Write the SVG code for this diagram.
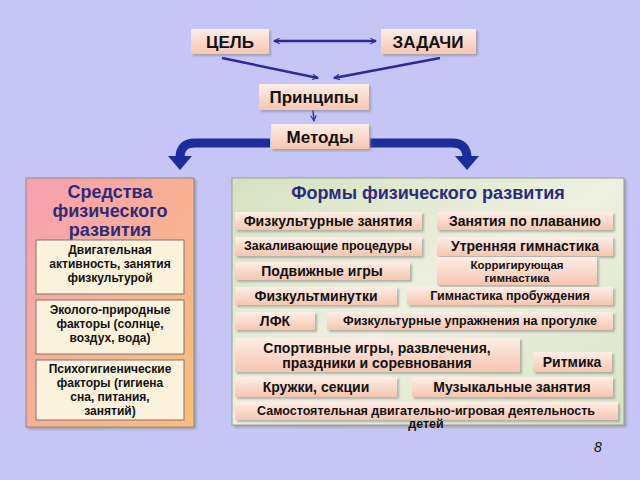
<svg xmlns="http://www.w3.org/2000/svg" width="640" height="480" viewBox="0 0 640 480">
<defs>
<linearGradient id="bx" x1="0" y1="0" x2="0" y2="1"><stop offset="0" stop-color="#fdeee6"/><stop offset="1" stop-color="#f6c6b0"/></linearGradient>
<linearGradient id="lp" x1="0" y1="0" x2="1" y2="1"><stop offset="0" stop-color="#f7a0b4"/><stop offset="1" stop-color="#fbbf73"/></linearGradient>
<linearGradient id="rp" x1="0" y1="0" x2="1" y2="1"><stop offset="0" stop-color="#d4e3c0"/><stop offset="0.5" stop-color="#eef0e0"/><stop offset="1" stop-color="#d8e4c4"/></linearGradient>
<marker id="oa" viewBox="0 0 10 10" refX="9" refY="5" markerWidth="7" markerHeight="7" orient="auto-start-reverse" markerUnits="userSpaceOnUse"><path d="M1,1 L9,5 L1,9" fill="none" stroke="#2a2a9a" stroke-width="1.5"/></marker>
<filter id="sh" x="-5%" y="-5%" width="115%" height="130%"><feDropShadow dx="2" dy="2" stdDeviation="1" flood-color="#888" flood-opacity="0.6"/></filter>
</defs>
<style>
text{font-family:"Liberation Sans",Arial,sans-serif;font-weight:bold;fill:#111;text-anchor:middle}
.b{fill:url(#bx);filter:url(#sh)}
.c{fill:#fbf2dc;stroke:#777;stroke-width:1}
.t{font-size:17px}
.f{font-size:14px}
.g{font-size:12.5px}
.k{font-size:11.5px}
.s{font-size:12px}
.h{fill:#2b2b7a;font-size:18px}
.ln{stroke:#2a2a9a;stroke-width:2.5;fill:none;marker-end:url(#oa)}
</style>
<rect width="640" height="480" fill="#c6c6f6"/>
<g id="connectors">
<line class="ln" x1="274" y1="41" x2="376" y2="41" marker-start="url(#oa)"/>
<line class="ln" x1="222" y1="58" x2="318" y2="78"/>
<line class="ln" x1="440" y1="58" x2="334" y2="78"/>
<line class="ln" x1="313" y1="110" x2="314" y2="121" style="stroke-width:1.5"/>
<path d="M270,143 H195 Q180,143 180,158" fill="none" stroke="#1c2c9a" stroke-width="9"/>
<polygon points="168,156 192,156 180,170" fill="#1c2c9a"/>
<path d="M370,143 H452 Q467,143 467,158" fill="none" stroke="#1c2c9a" stroke-width="9"/>
<polygon points="455,156 479,156 467,170" fill="#1c2c9a"/>
</g>
<g id="cel"><rect class="b" x="191" y="29" width="78" height="25"/><text class="t" x="230" y="48">ЦЕЛЬ</text></g>
<g id="zadachi"><rect class="b" x="381" y="29" width="95" height="25"/><text class="t" x="428" y="48">ЗАДАЧИ</text></g>
<g id="principy"><rect class="b" x="259" y="84" width="110" height="26"/><text class="t" x="314" y="103">Принципы</text></g>
<g id="metody"><rect class="b" x="271" y="124" width="98" height="25"/><text class="t" x="320" y="143">Методы</text></g>
<g id="sredstva">
<rect x="26" y="178" width="168" height="249" fill="url(#lp)" stroke="#888" filter="url(#sh)"/>
<text class="h" x="110" y="198">Средства</text><text class="h" x="110" y="217">физического</text><text class="h" x="110" y="236">развития</text>
<rect class="c" x="36" y="240" width="148" height="54"/>
<text class="s" x="110" y="254">Двигательная</text><text class="s" x="110" y="268">активность, занятия</text><text class="s" x="110" y="282">физкультурой</text>
<rect class="c" x="36" y="300" width="148" height="54"/>
<text class="s" x="110" y="314">Эколого-природные</text><text class="s" x="110" y="328">факторы (солнце,</text><text class="s" x="110" y="342">воздух, вода)</text>
<rect class="c" x="36" y="360" width="148" height="60"/>
<text class="s" x="110" y="373">Психогигиенические</text><text class="s" x="110" y="387">факторы (гигиена</text><text class="s" x="110" y="401">сна, питания,</text><text class="s" x="110" y="415">занятий)</text>
</g>
<g id="formy">
<rect x="232" y="178" width="392" height="247" fill="url(#rp)" stroke="#999" filter="url(#sh)"/>
<text class="h" x="428" y="199">Формы физического развития</text>
<rect class="b" x="235" y="212" width="187" height="18"/><text class="f" x="328" y="226">Физкультурные занятия</text>
<rect class="b" x="437" y="212" width="176" height="18"/><text class="f" x="525" y="226">Занятия по плаванию</text>
<rect class="b" x="235" y="237" width="187" height="19"/><text class="g" x="328" y="250">Закаливающие  процедуры</text>
<rect class="b" x="437" y="237" width="176" height="19"/><text class="f" x="525" y="251">Утренняя гимнастика</text>
<rect class="b" x="235" y="262" width="175" height="18"/><text class="f" x="322" y="276">Подвижные игры</text>
<rect class="b" x="437" y="257" width="160" height="28"/><text class="k" x="517" y="269">Корригирующая</text><text class="k" x="517" y="282">гимнастика</text>
<rect class="b" x="235" y="287" width="162" height="18"/><text class="f" x="316" y="301">Физкультминутки</text>
<rect class="b" x="407" y="287" width="206" height="18"/><text class="g" x="510" y="300">Гимнастика пробуждения</text>
<rect class="b" x="235" y="312" width="80" height="18"/><text class="f" x="275" y="326">ЛФК</text>
<rect class="b" x="327" y="312" width="286" height="18"/><text class="g" x="470" y="325">Физкультурные упражнения на прогулке</text>
<rect class="b" x="235" y="338" width="285" height="34"/><text class="f" x="377" y="353">Спортивные игры, развлечения,</text><text class="f" x="377" y="368">праздники и  соревнования</text>
<rect class="b" x="533" y="352" width="79" height="20"/><text class="f" x="572" y="367">Ритмика</text>
<rect class="b" x="235" y="377" width="162" height="20"/><text class="f" x="316" y="392">Кружки, секции</text>
<rect class="b" x="412" y="377" width="201" height="20"/><text class="f" x="512" y="392">Музыкальные  занятия</text>
<rect class="b" x="235" y="402" width="383" height="18"/><text class="g" x="426" y="415">Самостоятельная двигательно-игровая деятельность</text><text class="g" x="426" y="428">детей</text>
</g>
<text x="598" y="452" style="font-weight:normal;font-style:italic;font-size:14px">8</text>
</svg>
